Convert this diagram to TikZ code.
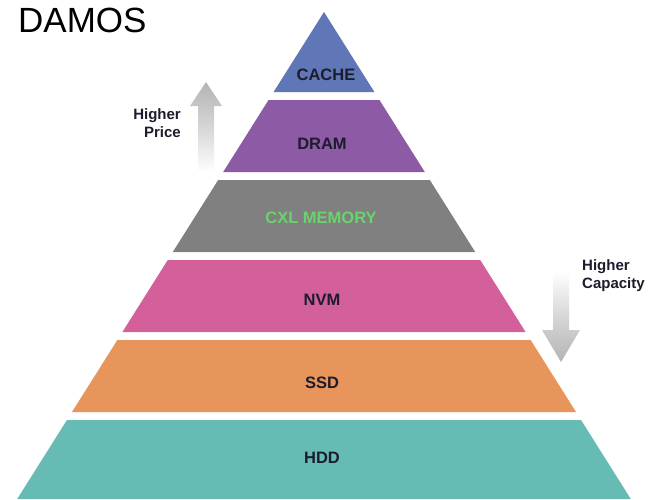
\documentclass[tikz,border=0pt]{standalone}
\usepackage{fontspec}
\setmainfont{Liberation Sans}
\usetikzlibrary{calc}
\definecolor{cCache}{HTML}{5F77B7}
\definecolor{cDram}{HTML}{8D5AA5}
\definecolor{cCxl}{HTML}{808080}
\definecolor{cNvm}{HTML}{D3609A}
\definecolor{cSsd}{HTML}{E8955C}
\definecolor{cHdd}{HTML}{66BCB4}
\definecolor{cTxt}{HTML}{1C1C2C}
\definecolor{cGreen}{HTML}{6BD36B}
\definecolor{cArrow}{HTML}{B4B4B4}
\tikzset{
  lbl/.style={anchor=base, font=\fontsize{16.5}{18}\selectfont\bfseries, text=cTxt, inner sep=0pt},
  side/.style={font=\fontsize{15}{18}\selectfont\bfseries, text=cTxt, inner sep=0pt},
}
\begin{document}
\begin{tikzpicture}[x=1pt,y=-1pt]
\useasboundingbox (0,0) rectangle (649,499);
\clip (0,0) rectangle (649,499);
\fill[white] (0,0) rectangle (649,499);
% pyramid: apex (324,12), half-width = 0.63*(y-12)
\def\ax{324}
\newcommand{\layer}[3]{%
  \fill[#3] ({\ax-0.63*(#1-12)},#1) -- ({\ax+0.63*(#1-12)},#1) -- ({\ax+0.63*(#2-12)},#2) -- ({\ax-0.63*(#2-12)},#2) -- cycle;}
\fill[cCache] (\ax,12) -- ({\ax+0.63*80},92) -- ({\ax-0.63*80},92) -- cycle;
\layer{100}{172}{cDram}
\layer{180}{252}{cCxl}
\layer{260}{332}{cNvm}
\layer{340}{412}{cSsd}
\layer{420}{499}{cHdd}
% labels
\node[lbl] (cache) at (326,80) {CACHE};
\node[lbl] (dram) at (322,149) {DRAM};
\node[lbl, text=cGreen] (cxl) at (321,223) {CXL MEMORY};
\node[lbl] (nvm) at (322,305) {NVM};
\node[lbl] (ssd) at (322,388) {SSD};
\node[lbl] (hdd) at (322,463) {HDD};
% title
\node[anchor=base west, inner sep=0pt, font=\fontsize{35}{38}\selectfont] (title) at (18,32) {DAMOS};
% up arrow
\shade[top color=cArrow, bottom color=white, middle color=cArrow!55!white]
  (206,82) -- (222,106) -- (214,106) -- (214,172) -- (198,172) -- (198,106) -- (190,106) -- cycle;
\node[side, align=right, anchor=base east] (price) at (181,137) {Higher\\Price};
% down arrow
\shade[top color=white, bottom color=cArrow, middle color=cArrow!55!white]
  (553,272) -- (569,272) -- (569,330) -- (580,330) -- (561,362) -- (542,330) -- (553,330) -- cycle;
\node[side, align=left, anchor=base west] (cap) at (582,288) {Higher\\Capacity};
\end{tikzpicture}
\end{document}
